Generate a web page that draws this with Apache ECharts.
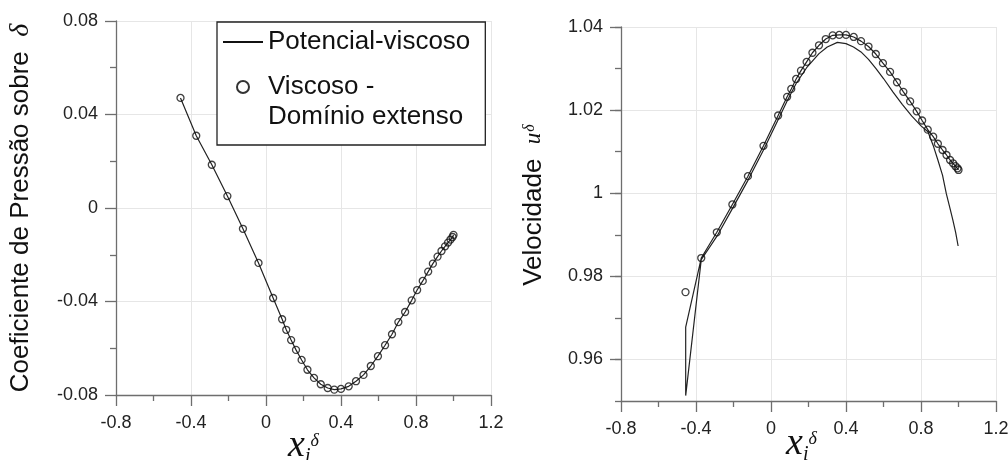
<!DOCTYPE html>
<html><head><meta charset="utf-8">
<script src="https://cdn.jsdelivr.net/npm/echarts@6/dist/echarts.min.js"></script>
<style>html,body{margin:0;padding:0;background:#fff}#c{width:1008px;height:460px}</style>
</head><body><div id="c"></div>
<script>
// ---- data ----
const xTicks = [-0.8, -0.4, 0, 0.4, 0.8, 1.2];
const cpTicks = [-0.08, -0.04, 0, 0.04, 0.08];
const uTicks = [0.96, 0.98, 1, 1.02, 1.04];

// abscissa of the stations (shared by both panels)
const xi = [-0.456, -0.372, -0.289, -0.206, -0.123, -0.04, 0.038, 0.086, 0.108, 0.134,
  0.16, 0.19, 0.221, 0.256, 0.292, 0.329, 0.364, 0.4, 0.441, 0.48,
  0.52, 0.559, 0.597, 0.635, 0.672, 0.706, 0.742, 0.777, 0.806, 0.836,
  0.865, 0.89, 0.915, 0.936, 0.955, 0.971, 0.984, 0.995, 1.0];

// left panel: pressure coefficient (viscous, extended domain)
const cpViscoso = [0.0471, 0.0309, 0.0185, 0.0051, -0.0089, -0.0235, -0.0385, -0.0476, -0.0521, -0.0565,
  -0.0607, -0.065, -0.0692, -0.0727, -0.0754, -0.077, -0.0777, -0.0774, -0.0763, -0.0741,
  -0.0714, -0.0676, -0.0634, -0.0587, -0.054, -0.0488, -0.0445, -0.0395, -0.0351, -0.0312,
  -0.0272, -0.0238, -0.0208, -0.0184, -0.0164, -0.0148, -0.0135, -0.0124, -0.0115];
// left panel: potential-viscous curve (coincides with the circles)
const cpPotencial = [0.0471, 0.0309, 0.0185, 0.0051, -0.0089, -0.0235, -0.0385, -0.0476, -0.0521, -0.0565,
  -0.0607, -0.065, -0.0692, -0.0727, -0.0754, -0.077, -0.0777, -0.0774, -0.0763, -0.0741,
  -0.0714, -0.0676, -0.0634, -0.0587, -0.054, -0.0488, -0.0445, -0.0395, -0.0351, -0.0312,
  -0.0272, -0.0238, -0.0208, -0.0184, -0.0164, -0.0148, -0.0135, -0.0124, -0.0115];

// right panel: velocity (viscous, extended domain)
const uViscoso = [0.9762, 0.9844, 0.9906, 0.9973, 1.0041, 1.0114, 1.0187, 1.0232, 1.0251, 1.0275,
  1.0295, 1.0316, 1.0338, 1.0356, 1.0371, 1.038, 1.0381, 1.0381, 1.0376, 1.0366,
  1.0353, 1.0335, 1.0313, 1.0292, 1.0267, 1.0244, 1.0221, 1.0197, 1.0175, 1.0153,
  1.0136, 1.0119, 1.0104, 1.0092, 1.008, 1.0072, 1.0065, 1.006, 1.0056];

// right panel: potential-viscous curve, in drawing order (upper branch, leading edge, lower branch)
const potRightX = [1.0, 0.995, 0.984, 0.971, 0.955, 0.936, 0.915, 0.89, 0.865, 0.836,
  0.806, 0.777, 0.742, 0.706, 0.672, 0.635, 0.597, 0.559, 0.52, 0.48,
  0.441, 0.4, 0.364, 0.329, 0.292, 0.256, 0.221, 0.19, 0.16, 0.134,
  0.108, 0.086, 0.038, -0.04, -0.123, -0.206, -0.289, -0.372,
  -0.455, -0.455,
  -0.372, -0.289, -0.206, -0.123, -0.04, 0.038, 0.086, 0.134, 0.19, 0.256,
  0.30, 0.354, 0.40, 0.44, 0.48, 0.52, 0.56, 0.60, 0.65, 0.70,
  0.75, 0.80, 0.837, 0.865, 0.89, 0.915, 0.935, 0.955, 0.97, 0.985, 0.998];
const potRightU = [1.0056, 1.006, 1.0065, 1.0072, 1.008, 1.0092, 1.0104, 1.0119, 1.0136, 1.0153,
  1.0175, 1.0197, 1.0221, 1.0244, 1.0267, 1.0292, 1.0313, 1.0335, 1.0353, 1.0366,
  1.0376, 1.0381, 1.0381, 1.038, 1.0371, 1.0356, 1.0338, 1.0316, 1.0295, 1.0275,
  1.0251, 1.0232, 1.0187, 1.0114, 1.0041, 0.9973, 0.9906, 0.9844,
  0.9678, 0.9513,
  0.984, 0.9896, 0.9963, 1.0031, 1.0104, 1.0177, 1.0222, 1.0264, 1.0302, 1.0336,
  1.0352, 1.0363, 1.036, 1.0352, 1.034, 1.0322, 1.03, 1.0276, 1.0244, 1.0214,
  1.0186, 1.0162, 1.0148, 1.0115, 1.008, 1.0043, 0.9999, 0.9963, 0.9935, 0.9905, 0.9873];

const NAME_LINE = 'Potencial-viscoso';
const NAME_CIRC = 'Viscoso - Domínio extenso';

// ---- styling helpers ----
const AX = '#6e6e6e';
const GRID = '#e6e6e6';
const SANS = '"Liberation Sans", Arial, sans-serif';
const SERIF = '"Liberation Serif", "Times New Roman", serif';
const axisLine = { show: true, onZero: false, lineStyle: { color: AX, width: 1.3 } };
const axisTick = { show: true, inside: false, length: 11, lineStyle: { color: AX, width: 1.3 } };
const minorTick = { show: true, splitNumber: 2, length: 6, lineStyle: { color: AX, width: 1.3 } };
const splitLine = { show: true, lineStyle: { color: GRID, width: 1 } };
const labelStyle = { fontSize: 18, color: '#222', fontFamily: SANS };

function xAxisFor(gridIndex, nameGap, namePad) {
  return {
    type: 'value', gridIndex, position: 'bottom', min: xTicks[0], max: xTicks[xTicks.length - 1], interval: 0.4,
    axisLine, axisTick, minorTick, splitLine,
    axisLabel: Object.assign({ margin: 19 }, labelStyle),
    name: '{x|x}{i|i}{d|δ}', nameLocation: 'middle', nameGap, nameMoveOverlap: false,
    nameTextStyle: {
      padding: namePad,
      rich: {
        x: { fontFamily: SERIF, fontStyle: 'italic', fontSize: 38, lineHeight: 40, verticalAlign: 'top', color: '#111' },
        i: { fontFamily: SERIF, fontStyle: 'italic', fontSize: 20, lineHeight: 20, verticalAlign: 'bottom', color: '#111' },
        d: { fontFamily: SERIF, fontStyle: 'italic', fontSize: 18, lineHeight: 18, verticalAlign: 'top', padding: [5, 0, 0, 0], color: '#111' }
      }
    }
  };
}

const option = {
  animation: false,
  backgroundColor: '#fff',
  grid: [
    { left: 116, top: 21, width: 375, height: 374, containLabel: false, outerBoundsMode: 'none' },
    { left: 621, top: 27, width: 375, height: 374, containLabel: false, outerBoundsMode: 'none' }
  ],
  xAxis: [xAxisFor(0, 32, [0, 0, 0, 0]), xAxisFor(1, 24, [0, 14, 0, 0])],
  yAxis: [
    {
      type: 'value', gridIndex: 0, position: 'left', min: cpTicks[0], max: cpTicks[cpTicks.length - 1], interval: 0.04,
      axisLine, axisTick, minorTick, splitLine,
      axisLabel: Object.assign({ margin: 18 }, labelStyle),
      name: '{a|Coeficiente de Pressão sobre  }{d|δ}', nameLocation: 'middle', nameGap: 80, nameMoveOverlap: false,
      nameTextStyle: {
        rich: {
          a: { fontFamily: SANS, fontSize: 26, lineHeight: 30, color: '#111' },
          d: { fontFamily: SERIF, fontStyle: 'italic', fontSize: 28, lineHeight: 30, color: '#111' }
        }
      }
    },
    {
      type: 'value', gridIndex: 1, position: 'left', min: 0.95, max: uTicks[uTicks.length - 1], interval: 0.01,
      axisLine,
      axisTick: Object.assign({ customValues: uTicks }, axisTick),
      splitLine: { show: false },
      axisLabel: Object.assign({ margin: 18, customValues: uTicks }, labelStyle),
      name: '{a|Velocidade  }{u|u}{s|δ}', nameLocation: 'middle', nameGap: 72, nameMoveOverlap: false,
      nameTextStyle: {
        padding: [0, 0, 0, 18],
        rich: {
          a: { fontFamily: SANS, fontSize: 26, lineHeight: 30, color: '#111' },
          u: { fontFamily: SERIF, fontStyle: 'italic', fontSize: 23, lineHeight: 30, color: '#111' },
          s: { fontFamily: SERIF, fontStyle: 'italic', fontSize: 16, lineHeight: 16, verticalAlign: 'top', padding: [3, 0, 0, 1], color: '#111' }
        }
      }
    },
    {
      type: 'value', gridIndex: 1, position: 'left', offset: 0, min: 0.95, max: uTicks[uTicks.length - 1], interval: 0.01,
      axisLine: { show: false, onZero: false },
      axisTick: { show: true, length: 6, lineStyle: { color: AX, width: 1.3 } },
      axisLabel: { show: false }, splitLine: { show: false }
    }
  ],
  legend: {
    orient: 'vertical', left: 217, top: 22,
    padding: [5, 15, 13, 5],
    itemGap: -15, itemWidth: 40, itemHeight: 12,
    backgroundColor: '#fff', borderColor: '#222', borderWidth: 1.3, borderRadius: 0,
    selectedMode: false,
    textStyle: { fontSize: 26, lineHeight: 30, color: '#111', fontFamily: SANS },
    formatter: function (name) { return name === NAME_CIRC ? '\nViscoso -\nDomínio extenso' : name; },
    data: [
      { name: NAME_LINE, lineStyle: { color: '#111', width: 2 }, itemStyle: { color: 'rgba(0,0,0,0)', borderWidth: 0, opacity: 0 } },
      { name: NAME_CIRC, icon: 'circle', itemStyle: { color: 'rgba(0,0,0,0)', borderColor: '#000', borderWidth: 2 } }
    ]
  },
  series: [
    {
      name: NAME_LINE, type: 'line', xAxisIndex: 0, yAxisIndex: 0,
      data: xi.map((x, k) => [x, cpPotencial[k]]),
      symbol: 'none', lineStyle: { color: '#222', width: 1.2 }, itemStyle: { color: '#222' }, z: 2
    },
    {
      name: NAME_CIRC, type: 'scatter', xAxisIndex: 0, yAxisIndex: 0,
      data: xi.map((x, k) => [x, cpViscoso[k]]),
      symbol: 'circle', symbolSize: 7,
      itemStyle: { color: 'rgba(0,0,0,0)', borderColor: '#111', borderWidth: 1.3 }, z: 3
    },
    {
      name: NAME_LINE, type: 'line', xAxisIndex: 1, yAxisIndex: 1,
      data: potRightX.map((x, k) => [x, potRightU[k]]),
      symbol: 'none', lineStyle: { color: '#222', width: 1.2 }, itemStyle: { color: '#222' }, z: 2
    },
    {
      name: NAME_CIRC, type: 'scatter', xAxisIndex: 1, yAxisIndex: 1,
      data: xi.map((x, k) => [x, uViscoso[k]]),
      symbol: 'circle', symbolSize: 7,
      itemStyle: { color: 'rgba(0,0,0,0)', borderColor: '#111', borderWidth: 1.3 }, z: 3,
      markLine: {
        silent: true, z: 0, symbol: ['none', 'none'], animation: false,
        label: { show: false },
        lineStyle: { color: GRID, width: 1, type: 'solid' },
        emphasis: { disabled: true },
        data: uTicks.map(v => ({ yAxis: v }))
      }
    }
  ]
};

const chart = echarts.init(document.getElementById('c'), null, { renderer: 'canvas' });
chart.setOption(option);
</script>
</body></html>
